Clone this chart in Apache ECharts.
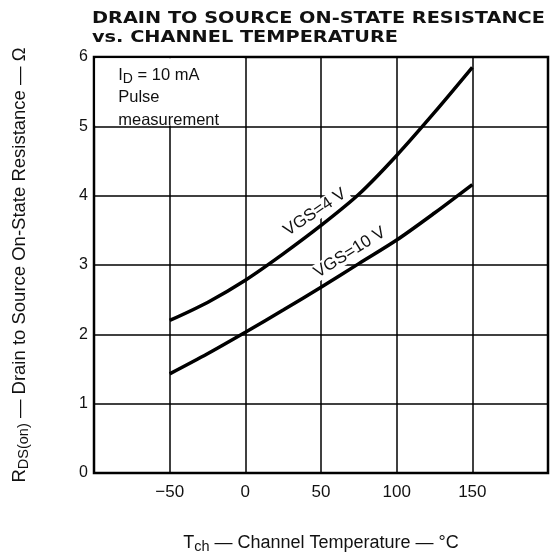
<!DOCTYPE html>
<html>
<head>
<meta charset="utf-8">
<script src="https://cdn.jsdelivr.net/npm/echarts@6/dist/echarts.min.js"></script>
<style>
  html, body { margin: 0; padding: 0; background: #fff; }
  #chart { width: 551px; height: 559px; }
</style>
</head>
<body>
<div id="chart"></div>
<script>
// channel temperature (°C) and on-state resistance (Ω)
const tempPts = [-50, -25, 0, 25, 50, 75, 100, 125, 150];
const rdsVgs4 = [2.2, 2.46, 2.78, 3.16, 3.57, 4.02, 4.58, 5.2, 5.85];
const rdsVgs10 = [1.43, 1.72, 2.03, 2.35, 2.68, 3.02, 3.36, 3.75, 4.16];
const xTickLabels = [-50, 0, 50, 100, 150];
const yTickLabels = [0, 1, 2, 3, 4, 5, 6];

const FONT = "Liberation Sans";
const chart = echarts.init(document.getElementById("chart"));

function pairs(xs, ys) {
  return xs.map((x, i) => [x, ys[i]]);
}

let option = {
  backgroundColor: "#fff",
  animation: false,
  grid: {
    left: 94,
    right: 3,
    top: 57,
    bottom: 86,
    show: true,
    borderColor: "#000",
    borderWidth: 2.5,
  },
  xAxis: {
    type: "value",
    min: -100,
    max: 200,
    interval: 50,
    name: "{t|T}{s|ch}{t| — Channel Temperature — °C}",
    nameLocation: "middle",
    nameGap: 59,
    nameTextStyle: {
      rich: {
        t: { fontFamily: FONT, fontSize: 18, color: "#111" },
        s: { fontFamily: FONT, fontSize: 14.5, color: "#111", padding: [7, 0, 0, 0] },
      },
    },
    axisLine: { show: false },
    axisTick: { show: false },
    axisLabel: {
      fontFamily: FONT,
      fontSize: 17,
      color: "#111",
      margin: 11,
      formatter: (v) =>
        xTickLabels.indexOf(v) < 0 ? "" : v < 0 ? "−" + Math.abs(v) : String(v),
    },
    splitLine: { show: true, lineStyle: { color: "#000", width: 1.5 } },
  },
  yAxis: {
    type: "value",
    min: 0,
    max: 6,
    interval: 1,
    name: "{t|R}{s|DS(on)}{t| — Drain to Source On-State Resistance — Ω}",
    nameLocation: "middle",
    nameRotate: 90,
    nameGap: 63,
    nameTextStyle: {
      rich: {
        t: { fontFamily: FONT, fontSize: 18.5, color: "#111" },
        s: { fontFamily: FONT, fontSize: 14.5, color: "#111", padding: [7, 0, 0, 0] },
      },
    },
    axisLine: { show: false },
    axisTick: { show: false },
    axisLabel: {
      fontFamily: FONT,
      fontSize: 16,
      color: "#111",
      margin: 6,
      formatter: (v) => (yTickLabels.indexOf(v) < 0 ? "" : String(v)),
    },
    splitLine: { show: true, lineStyle: { color: "#000", width: 1.5 } },
  },
  series: [
    {
      name: "VGS=4 V",
      type: "line",
      data: pairs(tempPts, rdsVgs4),
      smooth: 0.3,
      symbol: "none",
      lineStyle: { color: "#000", width: 3.5 },
      z: 5,
    },
    {
      name: "VGS=10 V",
      type: "line",
      data: pairs(tempPts, rdsVgs10),
      smooth: 0.3,
      symbol: "none",
      lineStyle: { color: "#000", width: 3.5 },
      z: 5,
    },
  ],
};
chart.setOption(option);

// annotations placed at data positions
const px = (x, y) => chart.convertToPixel({ gridIndex: 0 }, [x, y]);
const boxTL = px(-100, 6);
const boxBR = px(0, 5);
const noteAt = px(-84, 5.9);
const lab4 = px(46, 3.76);
const lab10 = px(69, 3.18);

chart.setOption({
  graphic: [
    {
      // wide-set heading, stretched horizontally like the printed sheet
      type: "text",
      x: 92,
      y: 10,
      scaleX: 1.287,
      z: 6,
      style: {
        text: "DRAIN TO SOURCE ON-STATE RESISTANCE\nvs. CHANNEL TEMPERATURE",
        fontFamily: "DejaVu Sans",
        fontWeight: "bold",
        fontSize: 15,
        lineHeight: 18.5,
        fill: "#111",
      },
    },
    {
      type: "rect",
      shape: {
        x: boxTL[0] + 1.3,
        y: boxTL[1] + 1.3,
        width: boxBR[0] - boxTL[0] - 2.2,
        height: boxBR[1] - boxTL[1] - 2.2,
      },
      style: { fill: "#fff" },
      z: 3,
    },
    {
      type: "text",
      x: noteAt[0],
      y: noteAt[1],
      z: 6,
      style: {
        text: "{t|I}{s|D}{t| = 10 mA}\n{t|Pulse}\n{t|measurement}",
        rich: {
          t: { fontFamily: FONT, fontSize: 16.5, lineHeight: 22.5, fill: "#111" },
          s: { fontFamily: FONT, fontSize: 14, lineHeight: 22.5, fill: "#111", padding: [7, 0, 0, 0] },
        },
      },
    },
    {
      type: "text",
      x: lab4[0],
      y: lab4[1],
      rotation: (34 * Math.PI) / 180,
      z: 6,
      style: {
        text: "VGS=4 V",
        fontFamily: FONT,
        fontSize: 17,
        fill: "#111",
        align: "center",
        verticalAlign: "middle",
        backgroundColor: "#fff",
        padding: [0, 3],
      },
    },
    {
      type: "text",
      x: lab10[0],
      y: lab10[1],
      rotation: (32 * Math.PI) / 180,
      z: 6,
      style: {
        text: "VGS=10 V",
        fontFamily: FONT,
        fontSize: 17,
        fill: "#111",
        align: "center",
        verticalAlign: "middle",
        backgroundColor: "#fff",
        padding: [0, 3],
      },
    },
  ],
});
</script>
</body>
</html>
